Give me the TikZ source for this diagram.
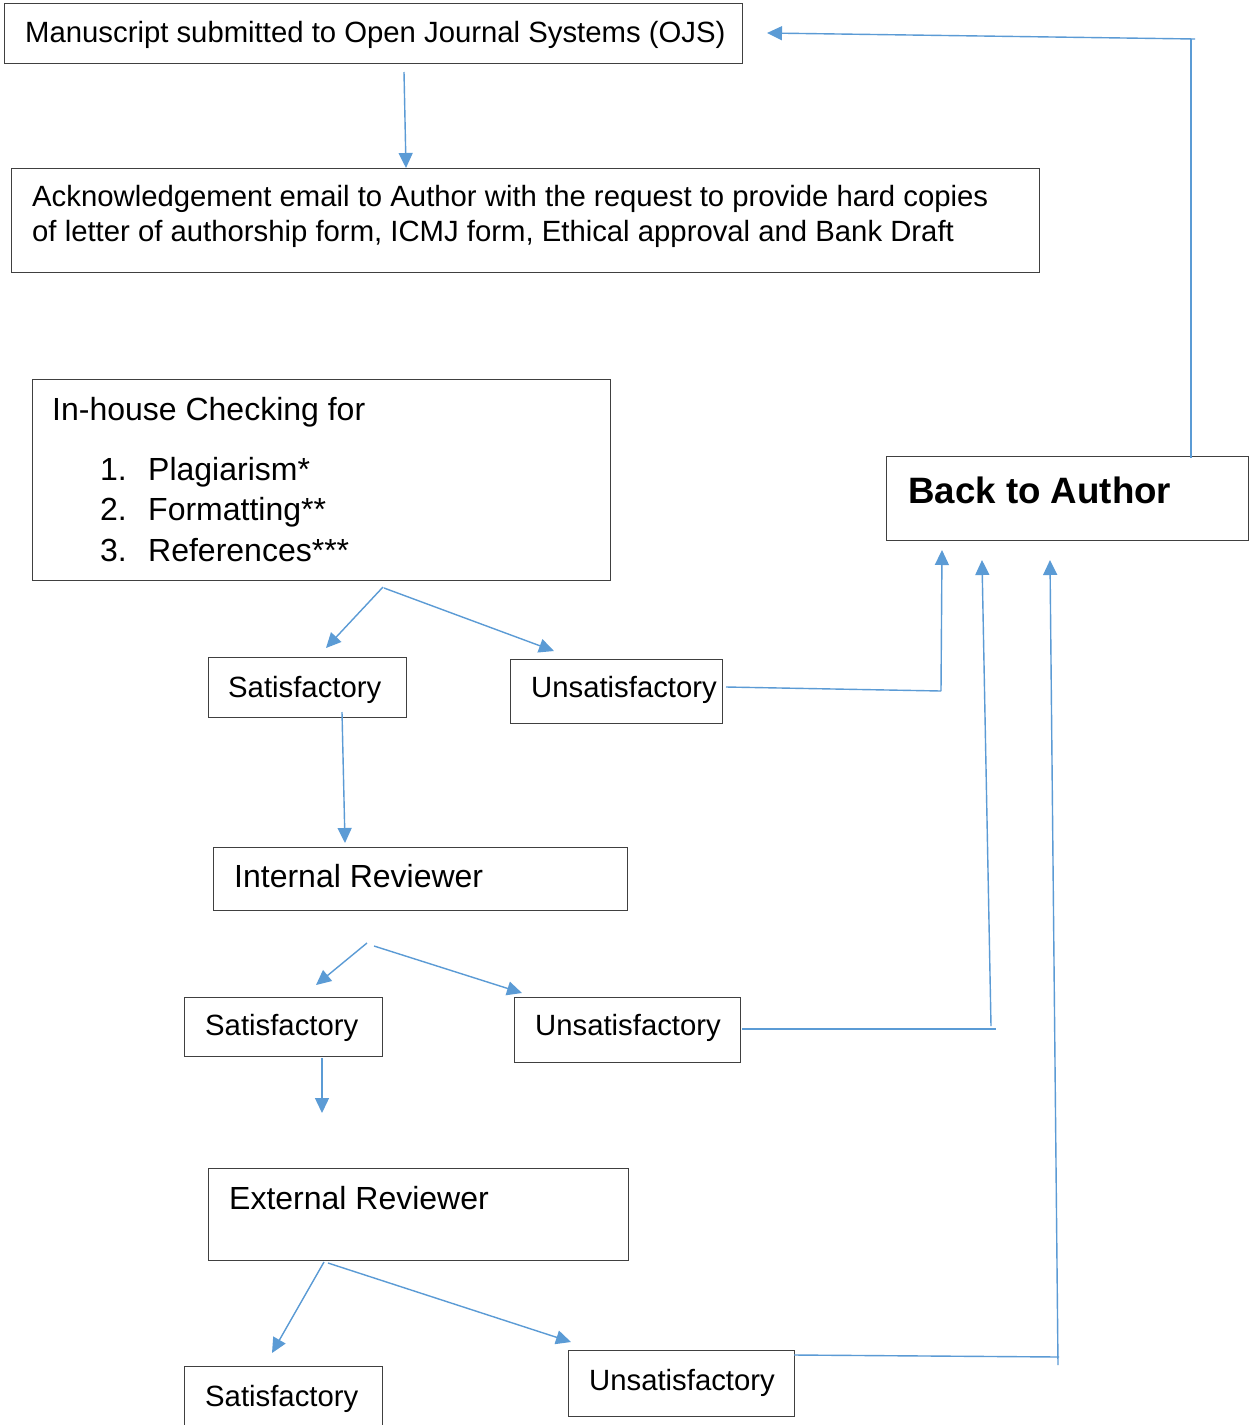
\documentclass[tikz,border=0pt]{standalone}
\usepackage{fontspec}
\setmainfont{Liberation Sans}
\usetikzlibrary{arrows.meta}
\definecolor{boxgray}{HTML}{404040}
\definecolor{lineblue}{HTML}{5B9BD5}
\tikzset{
  box/.style={draw=boxgray, line width=1.3pt, inner sep=0pt, anchor=north west, fill=none},
  txt/.style={inner sep=0pt, anchor=base west, font=\fontsize{29.3pt}{34pt}\selectfont},
  midtxt/.style={inner sep=0pt, anchor=base west, font=\fontsize{32pt}{36pt}\selectfont},
  bigtxt/.style={inner sep=0pt, anchor=base west, font=\fontsize{36.7pt}{40pt}\selectfont\bfseries},
  conn/.style={draw=lineblue, line width=1.4pt},
  arr/.style={conn, -{Triangle[length=15pt,width=14pt]}}
}
\begin{document}
\begin{tikzpicture}[x=1pt,y=-1pt]
\clip (0,0) rectangle (1250,1425);
\fill[white] (0,0) rectangle (1250,1425);
% boxes
\node[box, minimum width=738pt, minimum height=60pt] (b1) at (4,3) {};
\node[box, minimum width=1028pt, minimum height=104pt] (b2) at (11,168) {};
\node[box, minimum width=578pt, minimum height=201pt] (b3) at (32,379) {};
\node[box, minimum width=362pt, minimum height=84pt] (back) at (886,456) {};
\node[box, minimum width=198pt, minimum height=60pt] (s1) at (208,657) {};
\node[box, minimum width=212pt, minimum height=64pt] (u1) at (510,659) {};
\node[box, minimum width=414pt, minimum height=63pt] (ir) at (213,847) {};
\node[box, minimum width=198pt, minimum height=59pt] (s2) at (184,997) {};
\node[box, minimum width=226pt, minimum height=65pt] (u2) at (514,997) {};
\node[box, minimum width=420pt, minimum height=92pt] (er) at (208,1168) {};
\node[box, minimum width=198pt, minimum height=80pt] (s3) at (184,1366) {};
\node[box, minimum width=226pt, minimum height=66pt] (u3) at (568,1350) {};
% texts
\node[txt] (t1) at (25,42) {Manuscript submitted to Open Journal Systems (OJS)};
\node[txt] (t2a) at (32,206) {Acknowledgement email to Author with the request to provide hard copies};
\node[txt] (t2b) at (32,241) {of letter of authorship form, ICMJ form, Ethical approval and Bank Draft};
\node[midtxt] (t3) at (52,420) {In-house Checking for};
\node[midtxt] (n1) at (100,480) {1.};
\node[midtxt] (i1) at (148,480) {Plagiarism*};
\node[midtxt] (n2) at (100,520) {2.};
\node[midtxt] (i2) at (148,520) {Formatting**};
\node[midtxt] (n3) at (100,561) {3.};
\node[midtxt] (i3) at (148,561) {References***};
\node[bigtxt] (tb) at (908,503) {Back to Author};
\node[txt] (ts1) at (228,697) {Satisfactory};
\node[txt] (tu1) at (531,697) {Unsatisfactory};
\node[midtxt] (tir) at (234,887) {Internal Reviewer};
\node[txt] (ts2) at (205,1035) {Satisfactory};
\node[txt] (tu2) at (535,1035) {Unsatisfactory};
\node[midtxt] (ter) at (229,1209) {External Reviewer};
\node[txt] (ts3) at (205,1406) {Satisfactory};
\node[txt] (tu3) at (589,1390) {Unsatisfactory};
% connector end points
\coordinate (c1a) at (404,72);  \coordinate (c1b) at (406,168);
\coordinate (c2a) at (383,587); \coordinate (c2b) at (326,648);
\coordinate (c2c) at (384,588); \coordinate (c2d) at (554,651);
\coordinate (c3a) at (726,687); \coordinate (c3b) at (941,691); \coordinate (c3c) at (942,550);
\coordinate (c4a) at (342,712); \coordinate (c4b) at (345,843);
\coordinate (c5a) at (367,943); \coordinate (c5b) at (316,985);
\coordinate (c5c) at (374,946); \coordinate (c5d) at (522,993);
\coordinate (c6a) at (742,1029); \coordinate (c6b) at (996,1029);
\coordinate (c6c) at (991,1026); \coordinate (c6d) at (982,560);
\coordinate (c7a) at (322,1058); \coordinate (c7b) at (322,1113);
\coordinate (c8a) at (324,1262); \coordinate (c8b) at (272,1353);
\coordinate (c8c) at (328,1263); \coordinate (c8d) at (571,1342);
\coordinate (c9a) at (794,1355); \coordinate (c9b) at (1059,1357);
\coordinate (c9c) at (1058,1365); \coordinate (c9d) at (1050,560);
\coordinate (c10a) at (1191,458); \coordinate (c10b) at (1191,39);
\coordinate (c10c) at (1195,39); \coordinate (c10d) at (767,33);
% connectors
\draw[arr] (c1a) -- (c1b);
\draw[arr] (c2a) -- (c2b);
\draw[arr] (c2c) -- (c2d);
\draw[conn] (c3a) -- (c3b);
\draw[arr] (c3b) -- (c3c);
\draw[arr] (c4a) -- (c4b);
\draw[arr] (c5a) -- (c5b);
\draw[arr] (c5c) -- (c5d);
\draw[conn] (c6a) -- (c6b);
\draw[arr] (c6c) -- (c6d);
\draw[arr] (c7a) -- (c7b);
\draw[arr] (c8a) -- (c8b);
\draw[arr] (c8c) -- (c8d);
\draw[conn] (c9a) -- (c9b);
\draw[arr] (c9c) -- (c9d);
\draw[conn] (c10a) -- (c10b);
\draw[arr] (c10c) -- (c10d);
\end{tikzpicture}
\end{document}
